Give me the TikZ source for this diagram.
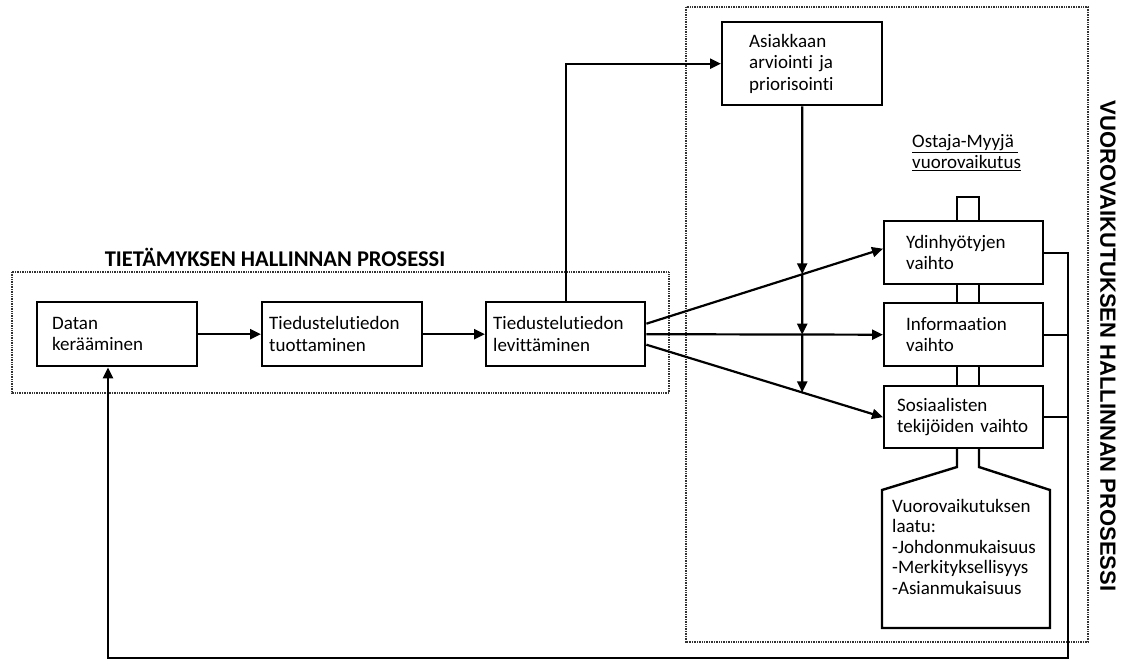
\documentclass[tikz,border=0pt]{standalone}
\usepackage{fontspec}
\setmainfont{Carlito}[Ligatures=NoCommon]
\newfontfamily\otsikkofont{Liberation Sans}
\usetikzlibrary{arrows.meta}
\usetikzlibrary{positioning}

\tikzset{
  laatikko/.style={draw, line width=2.4pt, anchor=north west, align=left, minimum height=64pt},
  nuoli/.style={line width=2.2pt, ->},
  viiva/.style={line width=2.2pt},
  katkoviiva/.style={line width=1.4pt, dash pattern=on 1pt off 0.7pt, black!80},
}

\begin{document}
\begin{tikzpicture}[x=1pt, y=-1pt, >={Triangle[length=11pt,width=10pt]},
  font=\fontsize{19}{21.5}\selectfont]
\useasboundingbox (0,0) rectangle (1122,661);

% prosessien rajat
\draw[katkoviiva] (12,272) rectangle (669,393);
\draw[katkoviiva] (686,7) rectangle (1088,642);

\node (otsikko1) at (275,257) {\fontsize{22.5}{24}\selectfont\bfseries TIETÄMYKSEN HALLINNAN PROSESSI};
\node[rotate=-90] (otsikko2) at (1108,346)
  {\otsikkofont\fontsize{22}{24}\selectfont\bfseries VUOROVAIKUTUKSEN HALLINNAN PROSESSI};

% tietämyksen hallinta
\node[laatikko, inner xsep=15pt, text width=130pt] (datan) at (36,301) {Datan\\kerääminen};
\node[laatikko, inner xsep=7pt, text width=146pt] (tuotto) at (261,301) {Tiedustelutiedon\\tuottaminen};
\node[laatikko, inner xsep=7pt, text width=145pt] (lev) at (485,301) {Tiedustelutiedon\\levittäminen};

% vuorovaikutus
\node[laatikko, inner xsep=27pt, text width=106pt, minimum height=83pt] (asi) at (721,21)
  {Asiakkaan\\arviointi ja\\priorisointi};
\node[align=left, anchor=north west, inner sep=0pt] (ostaja) at (912,134)
  {\underline{Ostaja-Myyjä\ }\\\underline{vuorovaikutus}};
\node[laatikko, inner xsep=22pt, text width=115pt, minimum height=63pt] (ydin) at (883,220) {Ydinhyötyjen\\vaihto};
\node[laatikko, inner xsep=22pt, text width=115pt, minimum height=63pt] (info) at (883,302) {Informaation\\vaihto};
\node[laatikko, inner xsep=13pt, text width=133pt, minimum height=62pt] (sos) at (883,385) {Sosiaalisten\\tekijöiden vaihto};
\node[align=left, anchor=north west, inner sep=0pt, font=\fontsize{19}{20.5}\selectfont] (laatu) at (892,499)
  {Vuorovaikutuksen\\laatu:\\-Johdonmukaisuus\\-Merkityksellisyys\\-Asianmukaisuus};

% liitokset laatikoiden valissa
\draw[line width=2.4pt] (957,220) -- (957,197) -- (979,197) -- (979,220);
\foreach \x in {957,979} {
  \draw[line width=2.4pt] (\x,283) -- (\x,302);
  \draw[line width=2.4pt] (\x,365) -- (\x,385);
}
\draw[line width=2.4pt] (957,447) -- (957,467) -- (882,490) -- (882,628) -- (1050,628)
  -- (1050,490) -- (979,467) -- (979,447);

% nuolet
\draw[nuoli] (datan.east) -- (tuotto.west);
\draw[nuoli] (tuotto.east) -- (lev.west);
\draw[nuoli] (lev.north) |- (asi.west);

\coordinate (yla) at ([yshift=10.5pt]lev.east);
\coordinate (ala) at ([yshift=-10.5pt]lev.east);
\coordinate (ydinkarki) at ([yshift=4pt]ydin.west);
\draw[nuoli] (yla) -- (ydinkarki);
\draw[nuoli] (lev.east) -- (info.west);
\draw[nuoli] (ala) -- (sos.west);

\coordinate (asiala) at (asi.south);
\coordinate (pysty) at (asiala |- info.west);
\coordinate (risti1) at (intersection of yla--ydinkarki and asiala--pysty);
\coordinate (risti3) at (intersection of ala--sos.west and asiala--pysty);
\draw[nuoli] (asiala) -- (risti1);
\draw[nuoli] (risti1) -- (pysty);
\draw[nuoli] (pysty) -- (risti3);

% palaute takaisin datan keraamiseen
\coordinate (oikea) at (1068,658);
\coordinate (vasen) at (108,658);
\draw[viiva] (info.east) -- (info.east -| oikea);
\draw[viiva] (sos.east) -- (sos.east -| oikea);
\draw[nuoli] (ydin.east) -| (oikea) -- (vasen) -- (vasen |- datan.south);
\end{tikzpicture}
\end{document}
